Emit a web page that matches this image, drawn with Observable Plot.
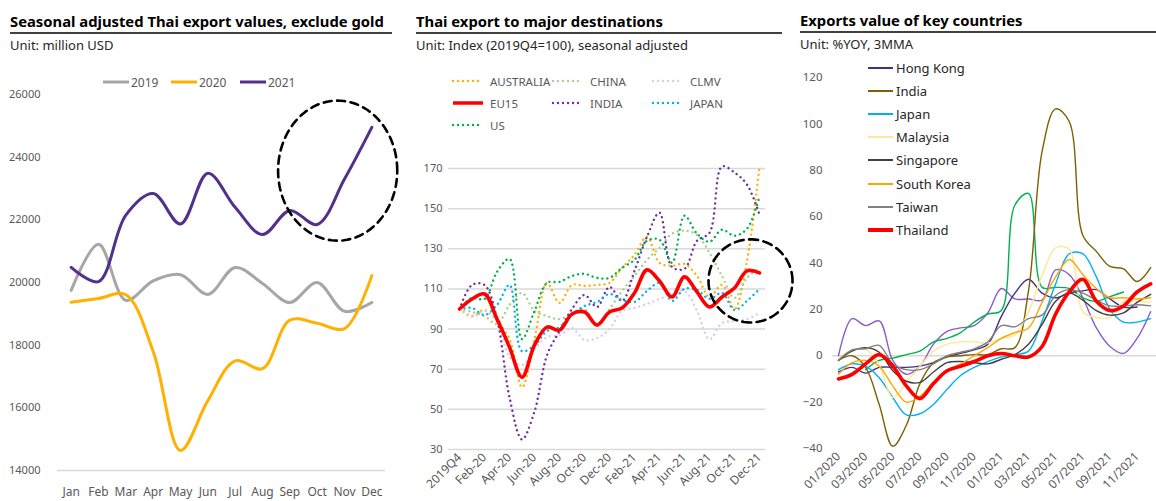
<!DOCTYPE html>
<html><head><meta charset="utf-8">
<script src="https://cdn.jsdelivr.net/npm/d3@7"></script>
<script src="https://cdn.jsdelivr.net/npm/@observablehq/plot@0.6"></script>
<style>
body{margin:0;background:#fff;font-family:"Noto Sans",sans-serif;}
#root{position:relative;width:1156px;height:501px;overflow:hidden;background:#fff;}
.title{position:absolute;font-weight:bold;font-size:14.8px;line-height:15px;color:#000;white-space:nowrap;}
.rule{position:absolute;height:0;border-top:2px solid #404040;}
.sub{position:absolute;font-size:13px;line-height:13px;color:#262626;white-space:nowrap;}
.leg{position:absolute;height:16px;display:flex;align-items:center;white-space:nowrap;}
.plotbox{position:absolute;}
</style></head><body><div id="root"></div><script>
// ---------- Panel 1 data ----------
const months = ["Jan","Feb","Mar","Apr","May","Jun","Jul","Aug","Sep","Oct","Nov","Dec"];
const years = ["2019","2020","2021"];
const exports2019 = [19750, 21220, 19430, 20050, 20250, 19620, 20480, 19970, 19360, 20000, 19080, 19360];
const exports2020 = [19370, 19490, 19610, 17800, 14640, 16230, 17500, 17250, 18800, 18700, 18530, 20220];
const exports2021 = [20480, 20030, 22150, 22840, 21870, 23490, 22400, 21530, 22300, 21850, 23300, 24950];
const highlight1 = {month: 10.75, value: 23570, monthRadius: 2.18, valueRadius: 2235};

// ---------- Panel 2 data ----------
const periods = ["2019Q4","Jan-20","Feb-20","Mar-20","Apr-20","May-20","Jun-20","Jul-20","Aug-20","Sep-20","Oct-20","Nov-20","Dec-20",
  "Jan-21","Feb-21","Mar-21","Apr-21","May-21","Jun-21","Jul-21","Aug-21","Sep-21","Oct-21","Nov-21","Dec-21"];
const destinations = ["AUSTRALIA","CHINA","CLMV","EU15","INDIA","JAPAN","US"];
const australia = [100, 96.5, 99.5, 94, 85, 61, 85, 113, 103, 112, 111.5, 112, 113, 120.5, 127, 136, 123, 121.5, 122.5, 116.5, 106, 112, 100, 124, 171];
const china     = [100, 98.5, 96.5, 92.5, 102, 108, 99, 96.5, 95, 98, 100, 91.5, 100, 109, 116.5, 124.5, 130.5, 137.5, 139, 137, 128, 116.5, 105.5, 115.5, 120.5];
const clmv      = [100, 96, 99, 94, 76, 72, 80, 86, 87, 90.5, 84.5, 85.5, 90, 99, 100.5, 102.5, 105, 107, 109, 99, 85, 93, 94, 95, 98];
const eu15      = [100, 105, 107.5, 95, 81, 66, 82, 91, 89.5, 97.5, 98.5, 92, 98.5, 100.5, 108, 119.5, 114, 106, 116, 108.5, 101, 106, 110.5, 119, 118];
const indiaDest = [100, 112, 112, 95, 56, 35, 49, 77, 89, 100, 107, 101, 111, 104, 119, 136, 148, 121, 120, 134, 138, 171, 168, 162, 147];
const japanDest = [100, 100.5, 97, 102, 112, 79, 82, 89, 91, 97, 101.5, 103.5, 107.5, 104.5, 103.5, 109, 113, 104, 110, 109.5, 105, 108, 99.5, 104, 110];
const usDest    = [100, 105.5, 105, 118.5, 125, 85, 99, 113, 113.5, 116.5, 117.5, 115.5, 115.5, 120.5, 124.5, 134, 134.5, 123, 146.5, 137.5, 133.5, 139.5, 136.5, 140, 156];
const highlight2 = {index: 23.28, value: 114, indexRadius: 3.36, valueRadius: 20.7};

// ---------- Panel 3 data ----------
const yoyMonths = ["01/2020","02/2020","03/2020","04/2020","05/2020","06/2020","07/2020","08/2020","09/2020","10/2020","11/2020","12/2020",
  "01/2021","02/2021","03/2021","04/2021","05/2021","06/2021","07/2021","08/2021","09/2021","10/2021","11/2021","12/2021"];
const countries = ["Hong Kong","India","Japan","Malaysia","Singapore","South Korea","Taiwan","Thailand"];
const hongKong   = [-7, -5, -7.5, -5, -5, -5, -4.5, -3, -0.5, 1, 2.5, 5, 17, 27, 33, 27, 25, 27, 28, 28.5, 24.5, 21, 21];
const indiaYoY   = [-2, 0, -5, -21, -39, -30, -12, -3, -0.5, 0, 0.5, 0.5, 3, 3.5, 28, 88, 106.5, 101, 52, 45, 38.5, 37.5, 32, 38];
const japanYoY   = [-6, -3.5, -4.5, -9.5, -18, -25.5, -25, -21, -14.5, -8.5, -5, -2.5, -0.5, 0.5, 2, 15, 31, 44, 44, 34, 20, 14.5, 14.5, 16];
const malaysia   = [-1.5, 2.5, 3, -4, -18, -11.5, -4.5, 2, 5, 6, 6, 5.5, 7.5, 9, 19, 34.5, 46.5, 46, 19, 16.5, 16.5, 23.5, 23.5, 23];
const singapore  = [-2, 2, 3.5, 1.5, -6.5, -11, -11.5, -7, -3, -2.5, -3, -3.5, -1.5, 0.5, 5, 13.5, 23.5, 27, 24, 19.5, 17.5, 18.5, 23, 26.5];
const southKorea = [-8, -3, -2, -4.5, -13, -20, -17.5, -11.5, -6.5, -3.5, 0, 3.5, 7.5, 10, 12, 23, 34, 41.5, 35, 29, 25, 25, 24.5, 25];
const taiwan     = [-2, 2.5, 3, 4.5, -3.5, -6, -6, -3.5, 0, 1.5, 3, 6, 13, 12.5, 16, 17.5, 26, 28.5, 27, 24, 21.5, 21.5, 22, 21.5];
const thailand   = [-10, -8, -3.5, 0.5, -4.5, -13, -18.5, -12, -6.5, -4.5, -2.5, 0, 1, 0, -0.5, 4, 18, 27.5, 33, 23.5, 19.5, 21.5, 27.5, 31];
// two further series drawn in the chart without a legend entry
const unlabeledPurple = [0, 16, 13, 15, -2, -8, -4.5, 5, 10.5, 12, 13, 18.5, 29, 24.5, 24.5, 24, 37, 35, 25, 12, 4, 1, 7.5, 19];
const unlabeledGreen  = [-6, -2, -1, 0.5, 2, 6, 7.5, 10, 14.5, 18, 19.5, 65, 70, 29.5, 29.5, 29, 25, 23.5, 25.5, 27.5];
const unlabeledGreenStart = 2;

// ---------- styles ----------
const yearColors = ["#a6a6a6", "#ffb000", "#53318a"];
const destColors = ["#ffb000", "#a9d18e", "#dccbee", "#ff0000", "#7030a0", "#00b0f0", "#00b050"];
const countryColors = ["#45307f", "#7f6000", "#00b0f0", "#ffe699", "#404040", "#ffa500", "#808080", "#ff0000"];
const GRAY = "#595959";
const FONT = "Noto Sans";

const root = document.getElementById("root");
function addDiv(cls, left, top, html, extra) {
  const d = document.createElement("div");
  d.className = cls; d.style.left = left + "px"; d.style.top = top + "px";
  if (extra) Object.assign(d.style, extra);
  d.innerHTML = html; root.appendChild(d); return d;
}
function swatch(w, color, sw, dotted) {
  return `<svg width="${w}" height="8" style="display:block;overflow:visible"><line x1="0" x2="${w}" y1="4" y2="4" stroke="${color}" stroke-width="${sw}"${dotted ? ' stroke-dasharray="0.01 5" stroke-linecap="round"' : ''}/></svg>`;
}
function legendItem(left, cy, w, color, sw, dotted, label, fontSize, textColor, gap) {
  addDiv("leg", left, cy - 8, swatch(w, color, sw, dotted) +
    `<span style="margin-left:${gap}px;font-size:${fontSize}px;color:${textColor}">${label}</span>`);
}
function ellipse(cx, cy, rx, ry) {
  return d3.range(0, 360, 3).map(a => ({x: cx + rx * Math.cos(a * Math.PI / 180), y: cy + ry * Math.sin(a * Math.PI / 180)}));
}
function place(svg, left, top) {
  const box = document.createElement("div");
  box.className = "plotbox"; box.style.left = left + "px"; box.style.top = top + "px";
  box.appendChild(svg); root.appendChild(box);
}
const plotStyle = {background: "transparent", overflow: "visible", fontFamily: FONT, color: GRAY};

// ================= Panel 1 =================
addDiv("title", 10, 14, "Seasonal adjusted Thai export values, exclude gold");
addDiv("rule", 10, 32, "", {width: "382px"});
addDiv("sub", 10, 39, "Unit: million USD");
years.forEach((y, k) => legendItem([103, 171, 240][k], 82, 26, yearColors[k], 3, false, y, 12, GRAY, 2));

const p1data = [exports2019, exports2020, exports2021].flatMap((arr, k) => arr.map((v, i) => ({year: years[k], m: i + 1, v})));
const p1 = Plot.plot({
  width: 400, height: 441, marginLeft: 57, marginRight: 15, marginTop: 34, marginBottom: 31,
  style: plotStyle,
  x: {domain: [0.5, 12.5]},
  y: {domain: [14000, 26000]},
  marks: [
    Plot.ruleY([14000], {stroke: "#d9d9d9", strokeWidth: 1.5}),
    Plot.axisY({ticks: d3.range(14000, 26001, 2000), tickFormat: d => String(d), tickSize: 0, tickPadding: 17, fontSize: 11, label: null}),
    Plot.axisX({ticks: d3.range(1, 13), tickFormat: i => months[i - 1], tickSize: 0, tickPadding: 17, fontSize: 12, label: null}),
    ...years.map((y, k) => Plot.line(p1data.filter(d => d.year === y), {x: "m", y: "v", stroke: yearColors[k], strokeWidth: 3, curve: "catmull-rom"})),
    Plot.line(ellipse(highlight1.month, highlight1.value, highlight1.monthRadius, highlight1.valueRadius),
      {x: "x", y: "y", curve: "linear-closed", stroke: "#000", strokeWidth: 2.6, strokeDasharray: "8 5.5"})
  ]
});
place(p1, 0, 60);

// ================= Panel 2 =================
addDiv("title", 416, 14, "Thai export to major destinations");
addDiv("rule", 416, 32, "", {width: "366px"});
addDiv("sub", 416, 39, "Unit: Index (2019Q4=100), seasonal adjusted");
const legCols = [453, 553, 653], legRows = [81, 103, 125];
destinations.forEach((name, k) => {
  const solid = name === "EU15";
  legendItem(legCols[k % 3], legRows[Math.floor(k / 3)], 30, destColors[k], solid ? 3.5 : 2.4, !solid, name, 11.5, GRAY, 7);
});
const destValues = [australia, china, clmv, eu15, indiaDest, japanDest, usDest];
const p2data = destValues.flatMap((arr, k) => arr.map((v, i) => ({dest: destinations[k], i, v})));
const drawOrder2 = [0, 1, 2, 4, 5, 6, 3];
const p2 = Plot.plot({
  width: 395, height: 351, marginLeft: 48, marginRight: 30, marginTop: 18, marginBottom: 52,
  style: plotStyle,
  x: {domain: [-0.88, 24.48]},
  y: {domain: [30, 170]},
  marks: [
    Plot.ruleY(d3.range(30, 171, 20), {stroke: "#d9d9d9", strokeWidth: 1.5}),
    Plot.axisY({ticks: d3.range(30, 171, 20), tickSize: 0, tickPadding: 6, fontSize: 11, label: null}),
    Plot.axisX({ticks: d3.range(0, 25, 2), tickFormat: i => periods[i], tickRotate: -45, tickSize: 0, tickPadding: 6, fontSize: 12, label: null}),
    ...drawOrder2.map(k => {
      const solid = destinations[k] === "EU15";
      return Plot.line(p2data.filter(d => d.dest === destinations[k]), solid
        ? {x: "i", y: "v", stroke: destColors[k], strokeWidth: 3.6, curve: "catmull-rom"}
        : {x: "i", y: "v", stroke: destColors[k], strokeWidth: 2.4, strokeDasharray: "0.01 5", strokeLinecap: "round", curve: "catmull-rom"});
    }),
    Plot.line(ellipse(highlight2.index, highlight2.value, highlight2.indexRadius, highlight2.valueRadius),
      {x: "x", y: "y", curve: "linear-closed", stroke: "#000", strokeWidth: 2.6, strokeDasharray: "9 5.5"})
  ]
});
place(p2, 400, 150);

// ================= Panel 3 =================
addDiv("title", 800, 13, "Exports value of key countries");
addDiv("rule", 800, 31, "", {width: "356px"});
addDiv("sub", 800, 38, "Unit: %YOY, 3MMA");
const legRows3 = [68, 91, 114, 137, 160, 183.5, 206.5, 230];
countries.forEach((c, k) => legendItem(868, legRows3[k], 25, countryColors[k], c === "Thailand" ? 4 : 2, false, c, 13, "#262626", 3));

const countryValues = [hongKong, indiaYoY, japanYoY, malaysia, singapore, southKorea, taiwan, thailand];
const p3data = countryValues.flatMap((arr, k) => arr.map((v, i) => ({country: countries[k], i, v})));
const extraPurple = unlabeledPurple.map((v, i) => ({i, v}));
const extraGreen = unlabeledGreen.map((v, j) => ({i: j + unlabeledGreenStart, v}));
const p3 = Plot.plot({
  width: 366, height: 441, marginLeft: 42, marginRight: 0, marginTop: 17, marginBottom: 53,
  style: plotStyle,
  x: {domain: [-0.44, 23.43]},
  y: {domain: [-40, 120]},
  marks: [
    Plot.ruleY([0], {stroke: "#d9d9d9", strokeWidth: 1.5}),
    Plot.axisY({ticks: d3.range(-40, 121, 20), tickSize: 0, tickPadding: 10, fontSize: 11.5, label: null}),
    Plot.axisX({ticks: d3.range(0, 24, 2), tickFormat: i => yoyMonths[i], tickRotate: -45, tickSize: 0, tickPadding: 6, fontSize: 12, label: null}),
    Plot.line(extraPurple, {x: "i", y: "v", stroke: "#8a5cc8", strokeWidth: 1.4, curve: "catmull-rom"}),
    Plot.line(extraGreen, {x: "i", y: "v", stroke: "#00b050", strokeWidth: 1.4, curve: "catmull-rom"}),
    ...countries.map((c, k) => Plot.line(p3data.filter(d => d.country === c),
      {x: "i", y: "v", stroke: countryColors[k], strokeWidth: c === "Thailand" ? 3.6 : 1.4, curve: "catmull-rom"}))
  ]
});
place(p3, 790, 60);
</script></body></html>
